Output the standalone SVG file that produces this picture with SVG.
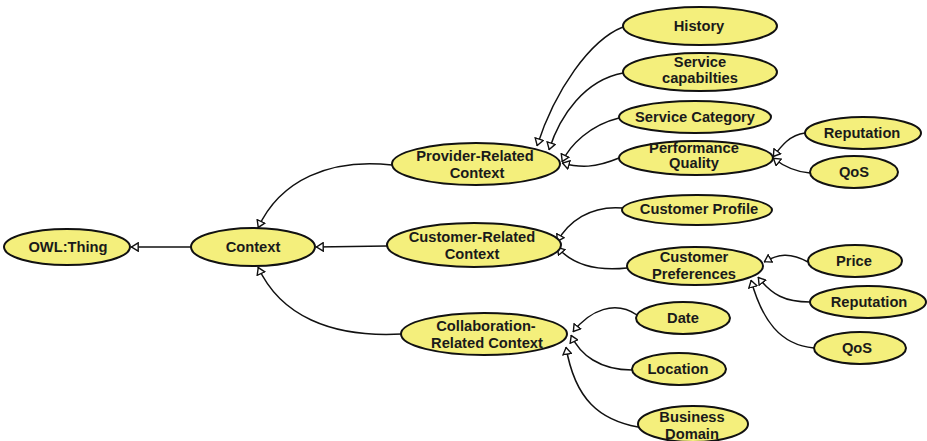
<svg xmlns="http://www.w3.org/2000/svg" width="927" height="441" viewBox="0 0 927 441">
  <style>
    .node ellipse { fill: #F4EF7C; stroke: #111; stroke-width: 2; }
    .node text { font-family: "Liberation Sans", Arial, sans-serif; font-weight: bold; font-size: 14.7px; fill: #1a1a1a; text-anchor: middle; }
    .edge { fill: none; stroke: #111; stroke-width: 1.5; marker-end: url(#tri); }
  </style>
  <defs>
    <!-- hollow subclass arrowhead -->
    <marker id="tri" viewBox="0 0 8 10" refX="8" refY="5" markerWidth="8" markerHeight="10" markerUnits="userSpaceOnUse" orient="auto">
      <path d="M0.8,0.8 L7.4,5 L0.8,9.2 z" fill="#fff" stroke="#111" stroke-width="1.4"/>
    </marker>
  </defs>
  <rect width="927" height="441" fill="#fff"/>

  <!-- subclass connectors, child to parent -->
  <g id="connectors">
    <path class="edge" d="M192,247 L131,247"/>
    <path class="edge" d="M392,165 C330,158 280,180 258,228"/>
    <path class="edge" d="M387,246 L316,247"/>
    <path class="edge" d="M402,334 C330,338 280,315 258,267"/>
    <path class="edge" d="M623,27 C590,40 555,90 537,146"/>
    <path class="edge" d="M623,73 C585,80 560,115 549,150"/>
    <path class="edge" d="M619,118 C590,125 570,145 562,162"/>
    <path class="edge" d="M619,158 C595,168 580,168 562,163"/>
    <path class="edge" d="M805,133 C790,135 782,145 773,157"/>
    <path class="edge" d="M810,173 C795,172 782,165 773,158"/>
    <path class="edge" d="M623,208 C590,205 568,222 557,242"/>
    <path class="edge" d="M627,268 C590,272 570,262 557,247"/>
    <path class="edge" d="M808,262 C790,252 778,254 764,262"/>
    <path class="edge" d="M810,302 C785,302 772,295 758,277"/>
    <path class="edge" d="M814,348 C780,345 762,320 751,280"/>
    <path class="edge" d="M637,315 C615,300 590,310 573,332"/>
    <path class="edge" d="M632,370 C600,370 580,355 571,335"/>
    <path class="edge" d="M638,427 C600,420 575,400 566,347"/>
  </g>

  <g id="owl-thing" class="node"><ellipse cx="67" cy="247" rx="63" ry="18"/><text x="68" y="252">OWL:Thing</text></g>
  <g id="context" class="node"><ellipse cx="253" cy="247" rx="62" ry="19"/><text x="253" y="252">Context</text></g>

  <g id="provider" class="node"><ellipse cx="476" cy="164" rx="84" ry="21"/><text x="475" y="161">Provider-Related</text><text x="477" y="178">Context</text></g>
  <g id="history" class="node"><ellipse cx="700" cy="26" rx="77" ry="19"/><text x="699" y="31">History</text></g>
  <g id="service-capabilities" class="node"><ellipse cx="700" cy="72" rx="77" ry="19"/><text x="700" y="67">Service</text><text x="700" y="83">capabilties</text></g>
  <g id="service-category" class="node"><ellipse cx="695" cy="117" rx="76" ry="16"/><text x="695" y="122">Service Category</text></g>
  <g id="performance-quality" class="node"><ellipse cx="696" cy="158" rx="77" ry="17"/><text x="694" y="153">Performance</text><text x="694" y="168">Quality</text></g>
  <g id="pq-reputation" class="node"><ellipse cx="863" cy="133" rx="58" ry="16"/><text x="862" y="138">Reputation</text></g>
  <g id="pq-qos" class="node"><ellipse cx="854" cy="172" rx="44" ry="16"/><text x="854" y="177">QoS</text></g>

  <g id="customer" class="node"><ellipse cx="474" cy="245" rx="87" ry="22"/><text x="472" y="242">Customer-Related</text><text x="472" y="259">Context</text></g>
  <g id="customer-profile" class="node"><ellipse cx="697" cy="210" rx="75" ry="15"/><text x="699" y="214">Customer Profile</text></g>
  <g id="customer-preferences" class="node"><ellipse cx="695" cy="266" rx="68" ry="19"/><text x="694" y="262">Customer</text><text x="694" y="279">Preferences</text></g>
  <g id="price" class="node"><ellipse cx="855" cy="261" rx="47" ry="16"/><text x="854" y="266">Price</text></g>
  <g id="cp-reputation" class="node"><ellipse cx="868" cy="302" rx="58" ry="16"/><text x="869" y="307">Reputation</text></g>
  <g id="cp-qos" class="node"><ellipse cx="860" cy="348" rx="46" ry="16"/><text x="857" y="353">QoS</text></g>

  <g id="collaboration" class="node"><ellipse cx="484" cy="334" rx="83" ry="21"/><text x="486" y="331">Collaboration-</text><text x="487" y="348">Related Context</text></g>
  <g id="date" class="node"><ellipse cx="683" cy="318" rx="47" ry="16"/><text x="683" y="323">Date</text></g>
  <g id="location" class="node"><ellipse cx="679" cy="369" rx="47" ry="16"/><text x="678" y="374">Location</text></g>
  <g id="business-domain" class="node"><ellipse cx="693" cy="424" rx="55" ry="18"/><text x="692" y="422">Business</text><text x="692" y="439">Domain</text></g>
</svg>
